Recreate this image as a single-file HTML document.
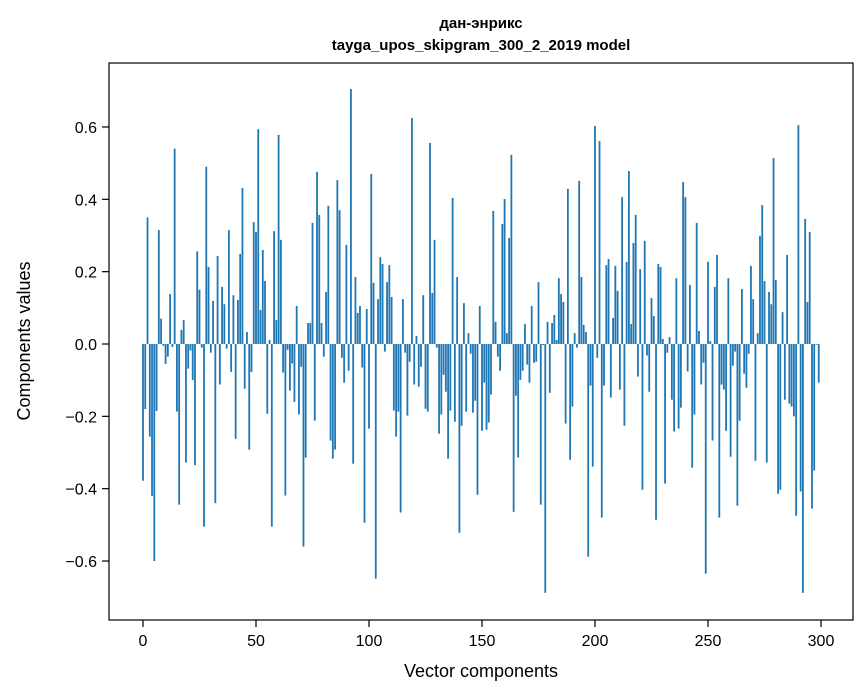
<!DOCTYPE html>
<html><head><meta charset="utf-8"><style>
body{margin:0;background:#fff;}
svg{display:block;font-family:"Liberation Sans","DejaVu Sans",sans-serif;}
</style></head><body>
<svg id="chart" width="867" height="696">
<rect width="867" height="696" fill="#fff"/>
<text x="481" y="28" text-anchor="middle" font-size="15" font-weight="bold">дан-энрикс</text>
<text x="481" y="50" text-anchor="middle" font-size="15" font-weight="bold">tayga_upos_skipgram_300_2_2019 model</text>
<g id="bars"></g>
<g id="axes"></g>
<rect x="109" y="63" width="744" height="557" fill="none" stroke="#000" stroke-width="1.2"/>
<text x="481" y="677" text-anchor="middle" font-size="18">Vector components</text>
<text transform="translate(30,341) rotate(-90)" text-anchor="middle" font-size="18">Components values</text>
</svg>
<script>
const values = [-0.378,-0.18,0.35,-0.256,-0.42,-0.60,-0.185,0.315,0.07,-0.005,
-0.055,-0.035,0.138,-0.008,0.54,-0.187,-0.444,0.039,0.066,-0.328,
-0.068,-0.018,-0.10,-0.335,0.256,0.15,-0.01,-0.505,0.49,0.213,
-0.024,0.119,-0.44,0.243,-0.112,0.158,0.11,-0.013,0.315,-0.077,
0.135,-0.262,0.122,0.249,0.431,-0.124,0.033,-0.292,-0.077,0.337,
0.31,0.594,0.094,0.26,0.174,-0.193,0.011,-0.505,0.312,0.066,
0.578,0.288,-0.079,-0.419,-0.016,-0.129,-0.054,-0.16,0.105,-0.195,
-0.063,-0.56,-0.314,0.058,0.058,0.335,-0.212,0.476,0.357,0.058,
-0.035,0.144,0.382,-0.267,-0.317,-0.292,0.453,0.37,-0.038,-0.107,
0.274,-0.074,0.705,-0.331,0.185,0.086,0.105,-0.065,-0.494,0.097,
-0.234,0.47,0.169,-0.649,0.124,0.24,0.221,-0.021,0.171,0.218,
0.13,-0.184,-0.256,-0.187,-0.466,0.124,-0.024,-0.198,-0.049,0.625,
-0.112,0.022,-0.118,-0.063,0.135,-0.179,-0.187,0.556,0.141,0.288,
-0.01,-0.248,-0.195,-0.085,-0.132,-0.317,-0.184,0.404,-0.215,0.185,
-0.522,-0.226,0.113,-0.187,0.03,-0.027,-0.19,-0.157,-0.417,0.105,
-0.24,-0.107,-0.237,-0.217,-0.14,0.368,0.061,-0.035,-0.074,0.332,
0.401,0.03,0.293,0.523,-0.464,-0.143,-0.314,-0.099,-0.074,0.055,
-0.057,-0.107,0.105,-0.052,-0.049,0.171,-0.444,-0.003,-0.688,0.061,
-0.135,0.058,0.08,0.011,0.182,0.138,0.116,-0.22,0.429,-0.32,
-0.173,0.03,-0.01,0.451,0.185,0.053,0.033,-0.588,-0.115,-0.339,
0.603,-0.038,0.561,-0.48,-0.115,0.218,0.235,-0.148,0.072,0.216,
0.147,-0.126,0.406,-0.226,0.227,0.478,0.055,0.279,0.357,-0.09,
0.207,-0.403,0.285,-0.032,-0.132,0.127,0.077,-0.486,0.221,0.213,
0.014,-0.386,-0.024,0.019,-0.154,-0.242,0.182,-0.234,-0.176,0.448,
0.406,-0.076,0.163,-0.342,-0.195,0.335,0.036,-0.112,-0.052,-0.635,
0.227,0.008,-0.267,0.158,0.246,-0.48,-0.112,-0.126,-0.24,0.182,
-0.312,-0.06,-0.021,-0.447,-0.212,0.152,-0.082,-0.121,-0.027,0.216,
0.124,-0.323,0.03,0.299,0.384,0.174,-0.328,0.144,0.11,0.514,
0.177,-0.414,-0.403,0.088,-0.154,0.246,-0.165,-0.173,-0.2,-0.475,
0.605,-0.408,-0.688,0.346,0.116,0.31,-0.455,-0.35,-0.002,-0.107];
const xTicks = [0,50,100,150,200,250,300];
const yTicks = [-0.6,-0.4,-0.2,0.0,0.2,0.4,0.6];
const yTickLabels = ["\u22120.6","\u22120.4","\u22120.2","0.0","0.2","0.4","0.6"];

const NS="http://www.w3.org/2000/svg";
const xScale = v => 143 + (v * 678 / 300);
const yScale = v => 344 - v * 361.7;
const bars = document.getElementById('bars');
values.forEach((v,i)=>{
  const r=document.createElementNS(NS,'rect');
  const x0=xScale(i-0.4), x1=xScale(i+0.4);
  const y0=Math.min(yScale(v),yScale(0)), y1=Math.max(yScale(v),yScale(0));
  r.setAttribute('x',x0);r.setAttribute('width',x1-x0);
  r.setAttribute('y',y0);r.setAttribute('height',Math.max(y1-y0,0.3));
  r.setAttribute('fill','#1f77b4');
  
  
  bars.appendChild(r);
});
const axes=document.getElementById('axes');
xTicks.forEach(t=>{
  const x=xScale(t);
  const l=document.createElementNS(NS,'line');
  l.setAttribute('x1',x);l.setAttribute('x2',x);l.setAttribute('y1',620);l.setAttribute('y2',627);
  l.setAttribute('stroke','#000');l.setAttribute('stroke-width','1.2');
  
  
  axes.appendChild(l);
  const tx=document.createElementNS(NS,'text');
  tx.setAttribute('x',x);tx.setAttribute('y',646);tx.setAttribute('text-anchor','middle');tx.setAttribute('font-size','16');
  tx.textContent=String(t);
  
  
  axes.appendChild(tx);
});
yTicks.forEach((t,i)=>{
  const y=yScale(t);
  const l=document.createElementNS(NS,'line');
  l.setAttribute('x1',102);l.setAttribute('x2',109);l.setAttribute('y1',y);l.setAttribute('y2',y);
  l.setAttribute('stroke','#000');l.setAttribute('stroke-width','1.2');
  
  
  axes.appendChild(l);
  const tx=document.createElementNS(NS,'text');
  tx.setAttribute('x',97);tx.setAttribute('y',y+6);tx.setAttribute('text-anchor','end');tx.setAttribute('font-size','16');
  tx.textContent=yTickLabels[i];
  
  
  axes.appendChild(tx);
});
</script>
</body></html>
